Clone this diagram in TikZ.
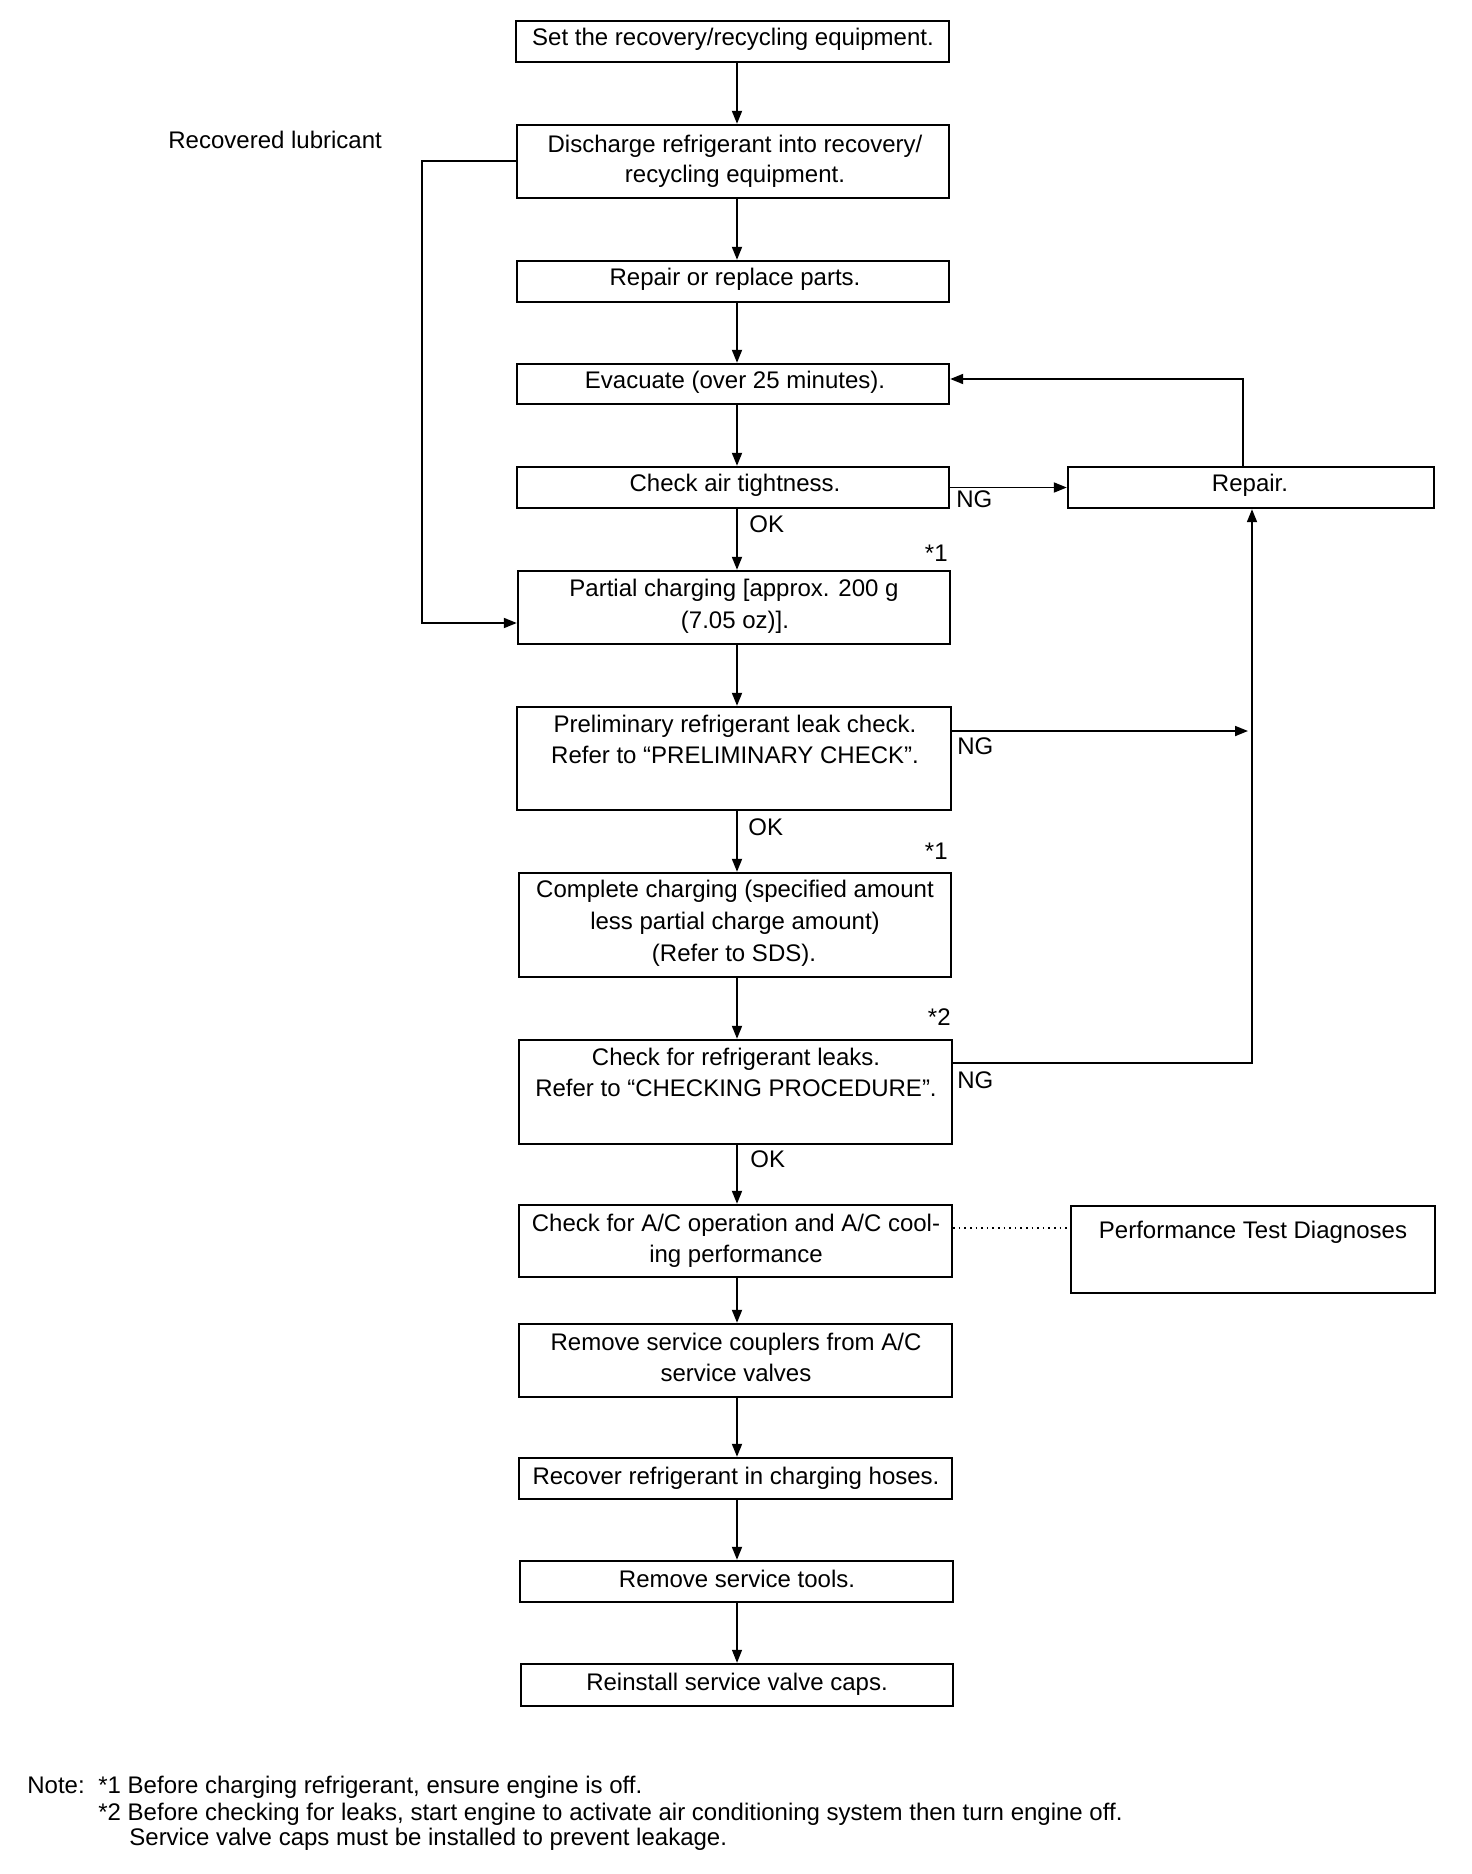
\documentclass[tikz,border=0pt]{standalone}
\usepackage{fontspec}
\setmainfont{Liberation Sans}
\usetikzlibrary{arrows.meta,fit}
\begin{document}
\begin{tikzpicture}[x=0.5pt,y=-0.5pt,
  box/.style={draw, line width=1.2pt, inner sep=0pt},
  txt/.style={anchor=base, inner sep=0pt, font=\fontsize{12}{14}\selectfont},
  lbl/.style={anchor=base west, inner sep=0pt, font=\fontsize{12}{14}\selectfont},
  lble/.style={anchor=base east, inner sep=0pt, font=\fontsize{12}{14}\selectfont},
  conn/.style={line width=0.9pt},
  arr/.style={conn, -{Triangle[length=6.5pt,width=5pt]}}]
\useasboundingbox (0,0) rectangle (1472,1874);
\fill[white] (0,0) rectangle (1472,1874);

% main column boxes
\node[box, fit={(516,21)(949,62)}] (set) {};
\node[box, fit={(517,125)(949,198)}] (disch) {};
\node[box, fit={(517,261)(949,302)}] (repl) {};
\node[box, fit={(517,364)(949,404)}] (evac) {};
\node[box, fit={(517,467)(949,508)}] (air) {};
\node[box, fit={(518,571)(950,644)}] (partial) {};
\node[box, fit={(517,707)(951,810)}] (prelim) {};
\node[box, fit={(519,873)(951,977)}] (compl) {};
\node[box, fit={(519,1040)(952,1144)}] (leaks) {};
\node[box, fit={(519,1205)(952,1277)}] (ac) {};
\node[box, fit={(519,1324)(952,1397)}] (coupl) {};
\node[box, fit={(519,1458)(952,1499)}] (recov) {};
\node[box, fit={(520,1561)(953,1602)}] (tools) {};
\node[box, fit={(521,1664)(953,1706)}] (reinst) {};
% right boxes
\node[box, fit={(1068,467)(1434,508)}] (repair) {};
\node[box, fit={(1071,1206)(1435,1293)}] (perf) {};

% texts
\node[txt] (setT) at (733,45) {Set the recovery/recycling equipment.};
\node[txt] (dischT1) at (735,152) {Discharge refrigerant into recovery/};
\node[txt] (dischT2) at (735,182) {recycling equipment.};
\node[txt] (replT) at (735,285) {Repair or replace parts.};
\node[txt] (evacT) at (735,388) {Evacuate (over 25 minutes).};
\node[txt] (airT) at (735,491) {Check air tightness.};
\node[txt] (partialT1) at (734,596) {Partial charging [approx. 200 g};
\node[txt] (partialT2) at (735,628) {(7.05 oz)].};
\node[txt] (prelimT1) at (735,732) {Preliminary refrigerant leak check.};
\node[txt] (prelimT2) at (735,763) {Refer to “PRELIMINARY CHECK”.};
\node[txt] (complT1) at (735,897) {Complete charging (specified amount};
\node[txt] (complT2) at (735,929) {less partial charge amount)};
\node[txt] (complT3) at (734,961) {(Refer to SDS).};
\node[txt] (leaksT1) at (736,1065) {Check for refrigerant leaks.};
\node[txt] (leaksT2) at (736,1096) {Refer to “CHECKING PROCEDURE”.};
\node[txt] (acT1) at (736,1231) {Check for A/C operation and A/C cool-};
\node[txt] (acT2) at (736,1262) {ing performance};
\node[txt] (couplT1) at (736,1350) {Remove service couplers from A/C};
\node[txt] (couplT2) at (736,1381) {service valves};
\node[txt] (recovT) at (736,1484) {Recover refrigerant in charging hoses.};
\node[txt] (toolsT) at (737,1587) {Remove service tools.};
\node[txt] (reinstT) at (737,1690) {Reinstall service valve caps.};
\node[txt] (repairT) at (1250,491) {Repair.};
\node[txt] (perfT) at (1253,1238) {Performance Test Diagnoses};

% side labels
\node[lbl] (lub) at (168,148) {Recovered lubricant};
\node[lbl] (ok1) at (749,532) {OK};
\node[lbl] (ok2) at (748,835) {OK};
\node[lbl] (ok3) at (750,1167) {OK};
\node[lbl] (ng1) at (956,507) {NG};
\node[lbl] (ng2) at (957,754) {NG};
\node[lbl] (ng3) at (957,1088) {NG};
\node[lble] (st1) at (948,561) {*1};
\node[lble] (st2) at (948,859) {*1};
\node[lble] (st3) at (951,1025) {*2};

% main arrows
\coordinate (ax) at (737,0);
\draw[arr] (set.south -| ax) -- (disch.north -| ax);
\draw[arr] (disch.south -| ax) -- (repl.north -| ax);
\draw[arr] (repl.south -| ax) -- (evac.north -| ax);
\draw[arr] (evac.south -| ax) -- (air.north -| ax);
\draw[arr] (air.south -| ax) -- (partial.north -| ax);
\draw[arr] (partial.south -| ax) -- (prelim.north -| ax);
\draw[arr] (prelim.south -| ax) -- (compl.north -| ax);
\draw[arr] (compl.south -| ax) -- (leaks.north -| ax);
\draw[arr] (leaks.south -| ax) -- (ac.north -| ax);
\draw[arr] (ac.south -| ax) -- (coupl.north -| ax);
\draw[arr] (coupl.south -| ax) -- (recov.north -| ax);
\draw[arr] (recov.south -| ax) -- (tools.north -| ax);
\draw[arr, line width=0.6pt] (tools.south -| ax) -- (reinst.north -| ax);

% recovered lubricant loop
\coordinate (lt) at (422,161);
\coordinate (lb) at (422,623);
\draw[arr] (disch.west |- lt) -- (lt) -- (lb) -- (partial.west |- lb);

% repair loops
\coordinate (fb) at (1243,379);
\draw[arr] (repair.north -| fb) -- (fb) -- (evac.east |- fb);
\draw[arr] (air.east) -- (repair.west);
\coordinate (pj) at (1248,731);
\draw[arr] (prelim.east |- pj) -- (pj);
\coordinate (vj) at (1252,1063);
\draw[arr] (leaks.east |- vj) -- (vj) -- (vj |- repair.south);

% dotted link
\coordinate (dy) at (1000,1228);
\draw[dotted, line width=0.8pt] (ac.east |- dy) -- (perf.west |- dy);

% notes
\node[lbl] (note) at (27,1793) {Note:};
\node[lbl] (n1) at (98,1793) {*1 Before charging refrigerant, ensure engine is off.};
\node[lbl] (n2) at (98,1820) {*2 Before checking for leaks, start engine to activate air conditioning system then turn engine off.};
\node[lbl] (n3) at (129,1845) {Service valve caps must be installed to prevent leakage.};
\end{tikzpicture}
\end{document}
